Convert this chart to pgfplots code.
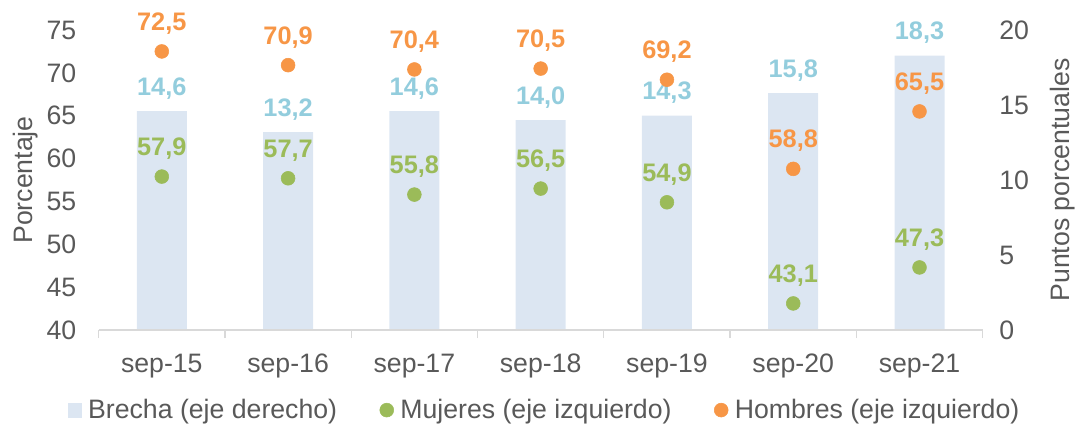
\documentclass[border=0pt]{standalone}
\usepackage{pgfplots}
\pgfplotsset{compat=1.18}
\usepackage{fontspec}
\setmainfont{Liberation Sans}
\definecolor{barc}{HTML}{DCE6F2}
\definecolor{blab}{HTML}{93CDDD}
\definecolor{grn}{HTML}{9BBB59}
\definecolor{org}{HTML}{F79646}
\definecolor{txt}{HTML}{595959}
\definecolor{axc}{HTML}{D9D9D9}
\newcommand{\bigf}{\fontsize{20}{24}\selectfont}
\newcommand{\labf}{\fontsize{19}{23}\selectfont\bfseries}
\pgfplotsset{myax/.style={scale only axis, width=663pt, height=225pt,
  xmin=-0.5, xmax=6.5, clip=false,
  /pgf/number format/assume math mode=true,
  tick label style={text=txt, font=\bigf},
  label style={text=txt, font=\bigf}}}
\begin{document}
\begin{tikzpicture}[font=\bigf]
\useasboundingbox (-74pt,-75pt) rectangle (732.25pt,247.5pt);
\begin{axis}[myax, ymin=0, ymax=20, ytick={0,5,...,20},
  axis y line*=right, axis x line=none,
  y axis line style={draw=none}, ytick style={draw=none},
  yticklabel style={xshift=9pt},
  ylabel={Puntos porcentuales},
  ylabel style={at={(axis description cs:1.09,0.5)}, anchor=center}]
\addplot[ybar, bar width=37.5pt, fill=barc, draw=none,
  nodes near coords, point meta=explicit symbolic,
  every node near coord/.style={text=blab, font=\labf, anchor=center, yshift=17pt}]
  table[meta=lab]{
x y lab
0 14.6 14,6
1 13.2 13,2
2 14.6 14,6
3 14.0 14,0
4 14.3 14,3
5 15.8 15,8
6 18.3 18,3
};
\end{axis}
\begin{axis}[myax, ymin=40, ymax=75, ytick={40,45,...,75},
  axis y line*=left, axis x line*=bottom,
  y axis line style={draw=none}, ytick style={draw=none},
  yticklabel style={xshift=-9pt},
  xticklabel style={yshift=-10pt},
  x axis line style={draw=axc, line width=1pt},
  xtick={0,...,6},
  xticklabels={sep-15,sep-16,sep-17,sep-18,sep-19,sep-20,sep-21},
  major x tick style={draw=none},
  minor xtick={-0.5,0.5,...,6.5},
  minor x tick style={draw=axc, line width=1pt},
  minor tick length=6pt, tick align=outside,
  ylabel={Porcentaje},
  ylabel style={at={(axis description cs:-0.083,0.5)}, anchor=center},
  legend style={at={(axis description cs:0.505,-0.267)}, anchor=center, draw=none,
    font=\bigf, text=txt, legend columns=3,
    /tikz/every odd column/.append style={column sep=3pt},
    /tikz/every even column/.append style={column sep=30pt}},
  legend cell align=left]
\addlegendimage{only marks, mark=square*, mark size=5pt, color=barc}
\addlegendentry{Brecha (eje derecho)}
\addplot[only marks, mark=*, mark size=5.2pt, color=grn,
  nodes near coords, point meta=explicit symbolic,
  every node near coord/.style={text=grn, font=\labf, anchor=center, yshift=21pt}]
  table[meta=lab]{
x y lab
0 57.9 57,9
1 57.7 57,7
2 55.8 55,8
3 56.5 56,5
4 54.9 54,9
5 43.1 43,1
6 47.3 47,3
};
\addlegendentry{Mujeres (eje izquierdo)}
\addplot[only marks, mark=*, mark size=5.2pt, color=org,
  nodes near coords, point meta=explicit symbolic,
  every node near coord/.style={text=org, font=\labf, anchor=center, yshift=21pt}]
  table[meta=lab]{
x y lab
0 72.5 72,5
1 70.9 70,9
2 70.4 70,4
3 70.5 70,5
4 69.2 69,2
5 58.8 58,8
6 65.5 65,5
};
\addlegendentry{Hombres (eje izquierdo)}
\end{axis}
\end{tikzpicture}
\end{document}
